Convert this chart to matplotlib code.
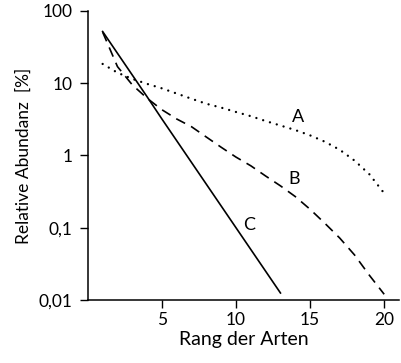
import matplotlib
matplotlib.use("Agg")
import matplotlib.pyplot as plt
from matplotlib.ticker import FixedLocator, NullLocator

plt.rcParams['font.family'] = ['Lato', 'DejaVu Sans']

# Rank-abundance curves for three communities
ranks_a = list(range(1, 21))
abund_a = [18.5, 14, 11.5, 9.8, 8.5, 7.2, 6.1, 5.2, 4.6, 4.0,
           3.5, 3.0, 2.6, 2.25, 1.9, 1.55, 1.2, 0.85, 0.55, 0.3]

ranks_b = list(range(1, 21))
abund_b = [51, 17, 9.5, 6.2, 4.3, 3.2, 2.5, 1.8, 1.3, 0.95,
           0.72, 0.52, 0.38, 0.27, 0.18, 0.115, 0.072, 0.042, 0.022, 0.012]

ranks_c = list(range(1, 14))
abund_c = [52, 26, 13, 6.5, 3.2, 1.6, 0.8, 0.4, 0.2, 0.1, 0.05, 0.025, 0.0125]

curve_labels = ["A", "B", "C"]
label_pos = [(14.2, 3.4), (13.9, 0.47), (10.9, 0.11)]

x_ticks = [5, 10, 15, 20]
y_ticks = [0.01, 0.1, 1, 10, 100]
y_tick_labels = ["0,01", "0,1", "1", "10", "100"]

fig = plt.figure(figsize=(4.01, 3.63), dpi=100)
ax = fig.add_axes([0.219, 0.1736, 0.776, 0.7961])

ax.plot(ranks_a, abund_a, color="black", lw=1.7,
        linestyle=(0, (0.01, 3.0)), dash_capstyle="round")
ax.plot(ranks_b, abund_b, color="black", lw=1.2,
        linestyle=(0, (6.0, 4.0)), dash_capstyle="butt")
ax.plot(ranks_c, abund_c, color="black", lw=1.2, linestyle="-")

for name, (lx, ly) in zip(curve_labels, label_pos):
    ax.text(lx, ly, name, fontsize=13, ha="center", va="center")

ax.set_yscale("log")
ax.set_xlim(0, 21)
ax.set_ylim(0.01, 100)
ax.xaxis.set_major_locator(FixedLocator(x_ticks))
ax.yaxis.set_major_locator(FixedLocator(y_ticks))
ax.yaxis.set_minor_locator(NullLocator())
ax.set_yticklabels(y_tick_labels)

for side in ("top", "right"):
    ax.spines[side].set_visible(False)
for side in ("left", "bottom"):
    ax.spines[side].set_linewidth(1.1)

ax.tick_params(axis="both", direction="out", length=6, width=1.0,
               labelsize=12.5)
ax.tick_params(axis="y", pad=5)
ax.tick_params(axis="x", pad=3)

ax.set_xlabel("Rang der Arten", fontsize=14, labelpad=2)
ax.set_ylabel("Relative Abundanz  [%]", fontsize=12.5)
ax.yaxis.set_label_coords(-0.18, 0.5)

fig.savefig("out.png", dpi=100)
